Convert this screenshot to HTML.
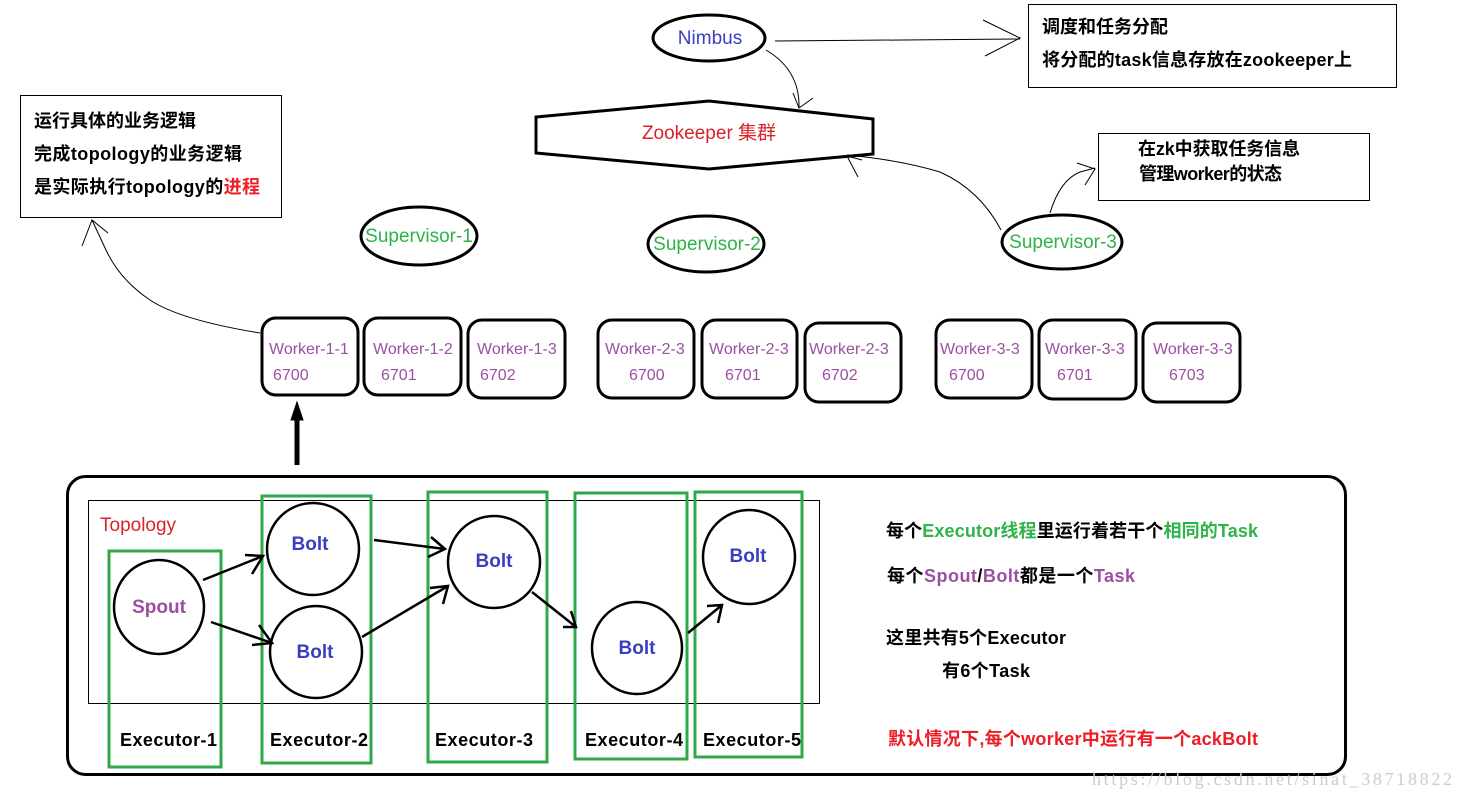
<!DOCTYPE html>
<html><head><meta charset="utf-8"><style>
html,body{margin:0;padding:0;background:#fff;}
svg{display:block;}
text{font-family:"Liberation Sans","Noto Sans CJK SC",sans-serif;}
.b{font-weight:bold;font-size:18px;fill:#000;}
.w{font-size:16px;fill:#9b4fa0;}
.sv{font-size:19px;fill:#2db34a;}
.bolt{font-weight:bold;font-size:19px;fill:#3a3fc0;}
</style></head><body>
<svg width="1464" height="799" viewBox="0 0 1464 799" xmlns="http://www.w3.org/2000/svg">
<g fill="none" stroke="#000">
<ellipse cx="709" cy="38" rx="56" ry="23" stroke-width="3"/>
<path d="M775 41 L1020 39" stroke-width="1"/>
<path d="M983 20 L1020 38 L985 56" stroke-width="1"/>
<rect x="1028.5" y="4.5" width="368" height="83" stroke-width="1"/>
<polygon points="536,117 709,101 873,119 873,154 709,169 536,153" stroke-width="3"/>
<path d="M766 50 Q800 70 799 108" stroke-width="1"/>
<path d="M793 93 L799 108 L813 98" stroke-width="1"/>
<rect x="1098.5" y="133.5" width="271" height="67" stroke-width="1"/>
<path d="M1001 230 Q980 190 940 172 Q900 160 847 155" stroke-width="1"/>
<path d="M858 177 L847 156 L862 160" stroke-width="1"/>
<path d="M1050 213 Q1060 180 1080 172 L1095 168" stroke-width="1"/>
<path d="M1077 163 L1095 169 L1085 185" stroke-width="1"/>
<rect x="20.5" y="95.5" width="261" height="122" stroke-width="1"/>
<path d="M260 333 Q180 320 150 300 Q120 280 106 250 L92 220" stroke-width="1"/>
<path d="M82 246 L92 220 L108 233" stroke-width="1"/>
<ellipse cx="419" cy="236" rx="58" ry="29" stroke-width="3"/>
<ellipse cx="706" cy="244" rx="58" ry="28" stroke-width="3"/>
<ellipse cx="1062" cy="242" rx="60" ry="27" stroke-width="3"/>
<g stroke-width="3">
<rect x="262" y="318" width="96" height="77" rx="14"/>
<rect x="364" y="318" width="97" height="77" rx="14"/>
<rect x="468" y="320" width="97" height="78" rx="14"/>
<rect x="598" y="320" width="96" height="78" rx="14"/>
<rect x="702" y="320" width="95" height="78" rx="14"/>
<rect x="805" y="323" width="96" height="79" rx="14"/>
<rect x="936" y="320" width="96" height="78" rx="14"/>
<rect x="1039" y="320" width="97" height="79" rx="14"/>
<rect x="1143" y="323" width="97" height="79" rx="14"/>
</g>
<path d="M297 465 L297 418" stroke-width="5"/>
<polygon points="291,420 297,402 303,420" fill="#000"/>
<rect x="67.5" y="476.5" width="1278" height="298" rx="18" stroke-width="3"/>
<rect x="88.5" y="500.5" width="731" height="203" stroke-width="1"/>
<g stroke="#2fa84a" stroke-width="3">
<rect x="109" y="551" width="112" height="216"/>
<rect x="262" y="496" width="109" height="267"/>
<rect x="428" y="492" width="119" height="270"/>
<rect x="575" y="493" width="112" height="266"/>
<rect x="695" y="492" width="107" height="265"/>
</g>
<g stroke-width="2.5">
<ellipse cx="159" cy="607" rx="45" ry="47"/>
<ellipse cx="313" cy="549" rx="46" ry="46"/>
<ellipse cx="316" cy="652" rx="46" ry="46"/>
<ellipse cx="494" cy="562" rx="46" ry="46"/>
<ellipse cx="637" cy="648" rx="45" ry="46"/>
<ellipse cx="749" cy="557" rx="46" ry="47"/>
</g>
<g stroke-width="2.5">
<path d="M203 580 L263 556"/><path d="M245 555 L263 556 L252 574"/>
<path d="M211 622 L272 643"/><path d="M259 625 L272 643 L252 645"/>
<path d="M374 540 L445 549"/><path d="M431 537 L445 549 L428 557"/>
<path d="M362 637 L448 586"/><path d="M430 588 L448 586 L443 604"/>
<path d="M532 592 L576 627"/><path d="M571 611 L576 627 L563 627"/>
<path d="M688 633 L722 605"/><path d="M707 606 L722 605 L718 623"/>
</g>
</g>
<text x="710" y="44" text-anchor="middle" font-size="19" fill="#3a3fc0">Nimbus</text>
<text x="1042" y="33" class="b" textLength="126">调度和任务分配</text>
<text x="1042" y="66" class="b" textLength="310">将分配的task信息存放在zookeeper上</text>
<text x="709" y="139" text-anchor="middle" font-size="19" fill="#d8232a">Zookeeper 集群</text>
<text x="1138" y="155" class="b" textLength="162">在zk中获取任务信息</text>
<text x="1139" y="180" class="b" textLength="143">管理worker的状态</text>
<text x="34" y="127" class="b" textLength="162">运行具体的业务逻辑</text>
<text x="34" y="160" class="b" textLength="208">完成topology的业务逻辑</text>
<text x="34" y="193" class="b" textLength="226">是实际执行topology的<tspan fill="#ee1c24">进程</tspan></text>
<text x="419" y="242" text-anchor="middle" class="sv">Supervisor-1</text>
<text x="707" y="250" text-anchor="middle" class="sv">Supervisor-2</text>
<text x="1063" y="248" text-anchor="middle" class="sv">Supervisor-3</text>
<text x="269" y="354" class="w">Worker-1-1</text><text x="273" y="380" class="w">6700</text>
<text x="373" y="354" class="w">Worker-1-2</text><text x="381" y="380" class="w">6701</text>
<text x="477" y="354" class="w">Worker-1-3</text><text x="480" y="380" class="w">6702</text>
<text x="605" y="354" class="w">Worker-2-3</text><text x="629" y="380" class="w">6700</text>
<text x="709" y="354" class="w">Worker-2-3</text><text x="725" y="380" class="w">6701</text>
<text x="809" y="354" class="w">Worker-2-3</text><text x="822" y="380" class="w">6702</text>
<text x="940" y="354" class="w">Worker-3-3</text><text x="949" y="380" class="w">6700</text>
<text x="1045" y="354" class="w">Worker-3-3</text><text x="1057" y="380" class="w">6701</text>
<text x="1153" y="354" class="w">Worker-3-3</text><text x="1169" y="380" class="w">6703</text>
<text x="100" y="531" font-size="19" fill="#d8232a">Topology</text>
<text x="159" y="613" text-anchor="middle" font-weight="bold" font-size="19" fill="#9b4fa0">Spout</text>
<text x="310" y="550" text-anchor="middle" class="bolt">Bolt</text>
<text x="315" y="658" text-anchor="middle" class="bolt">Bolt</text>
<text x="494" y="567" text-anchor="middle" class="bolt">Bolt</text>
<text x="637" y="654" text-anchor="middle" class="bolt">Bolt</text>
<text x="748" y="562" text-anchor="middle" class="bolt">Bolt</text>
<text x="120" y="746" class="b" textLength="97">Executor-1</text>
<text x="270" y="746" class="b" textLength="98">Executor-2</text>
<text x="435" y="746" class="b" textLength="98">Executor-3</text>
<text x="585" y="746" class="b" textLength="98">Executor-4</text>
<text x="703" y="746" class="b" textLength="98">Executor-5</text>
<text x="886" y="537" class="b" textLength="372">每个<tspan fill="#2db34a">Executor线程</tspan>里运行着若干个<tspan fill="#2db34a">相同的Task</tspan></text>
<text x="887" y="582" class="b" textLength="248">每个<tspan fill="#9b4fa0">Spout</tspan>/<tspan fill="#9b4fa0">Bolt</tspan>都是一个<tspan fill="#9b4fa0">Task</tspan></text>
<text x="886" y="644" class="b" textLength="180">这里共有5个Executor</text>
<text x="942" y="677" class="b" textLength="88">有6个Task</text>
<text x="888" y="745" class="b" style="fill:#ee1c24" textLength="370">默认情况下,每个worker中运行有一个ackBolt</text>
<text x="1092" y="785" font-size="18" fill="#ccc" style="font-family:'Liberation Serif',serif" textLength="360">https://blog.csdn.net/sinat_38718822</text>
</svg>
</body></html>
